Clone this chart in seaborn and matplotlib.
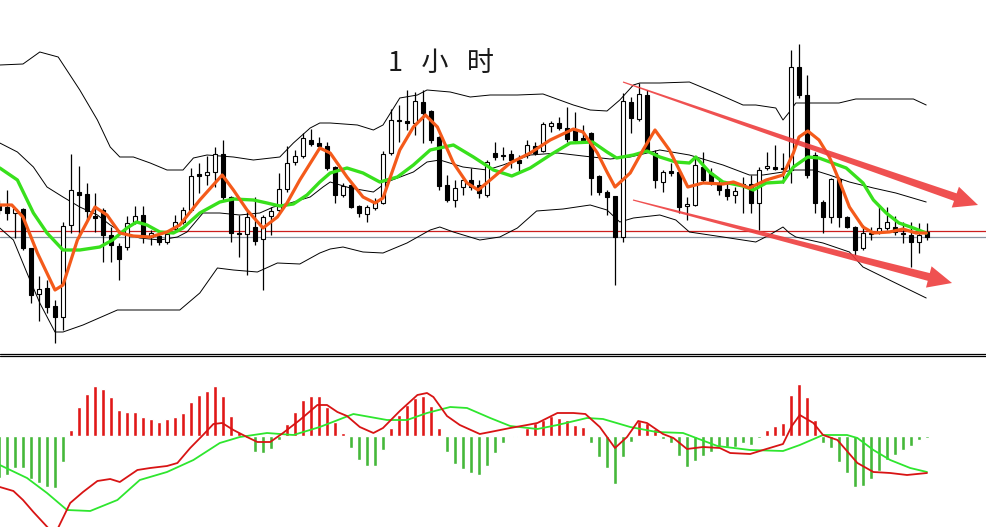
import matplotlib
matplotlib.use("Agg")
import matplotlib.pyplot as plt
import seaborn as sns
import numpy as np
from matplotlib.patches import Polygon

# ---- candles (bar index 0..116, chart price units) ----
opens = [147, 145, 139, 143, 104, 58, 64, 46, 35, 127,
         160, 158, 136, 142, 117, 106, 105, 130, 137, 115,
         116, 110, 123, 130, 142, 178, 177, 180, 198, 155,
         119, 118, 125, 113, 136, 142, 163, 190, 196, 212,
         209, 206, 185, 157, 167, 146, 138, 144, 149, 199,
         232, 231, 229, 250, 241, 215, 167, 152, 165, 172,
         167, 157, 199, 197, 198, 192, 197, 206, 201, 226,
         229, 224, 222, 214, 219, 176, 160, 156, 115, 250,
         233, 257, 199, 170, 181, 180, 146, 147, 185, 179,
         168, 163, 157, 168, 168, 149, 184, 185, 184, 182,
         285, 257, 197, 150, 135, 173, 135, 125, 104, 119,
         120, 124, 125, 119, 117, 110, 120]
highs = [152, 162, 143, 144, 104, 76, 72, 52, 130, 198,
         186, 169, 159, 144, 125, 109, 136, 146, 146, 122,
         120, 121, 137, 145, 184, 189, 196, 205, 212, 156,
         137, 141, 155, 137, 145, 179, 206, 202, 219, 223,
         215, 210, 186, 169, 168, 147, 147, 154, 201, 243,
         247, 262, 260, 262, 242, 216, 177, 172, 174, 184,
         172, 192, 210, 205, 202, 197, 212, 210, 230, 231,
         235, 245, 240, 227, 220, 177, 162, 156, 259, 255,
         269, 262, 202, 182, 189, 182, 155, 195, 200, 184,
         172, 169, 165, 175, 177, 185, 200, 207, 199, 302,
         308, 277, 200, 152, 174, 175, 136, 126, 127, 125,
         147, 145, 136, 130, 130, 129, 129]
lows = [138, 132, 114, 102, 49, 31, 39, 9, 22, 119,
        114, 132, 120, 90, 90, 72, 102, 128, 109, 107,
        107, 108, 120, 128, 140, 159, 167, 165, 152, 110,
        95, 77, 107, 62, 117, 140, 160, 187, 194, 206,
        204, 182, 149, 155, 144, 135, 130, 142, 148, 197,
        210, 222, 217, 209, 209, 162, 150, 145, 157, 162,
        154, 155, 192, 192, 184, 179, 194, 197, 200, 220,
        222, 210, 210, 209, 157, 157, 137, 67, 110, 219,
        231, 200, 164, 160, 176, 139, 132, 146, 170, 167,
        157, 152, 149, 139, 139, 122, 182, 182, 169, 169,
        254, 174, 139, 119, 129, 125, 124, 97, 102, 112,
        118, 122, 117, 109, 85, 99, 112]
closes = [142, 139, 143, 104, 57, 63, 45, 35, 126, 162,
          157, 141, 134, 117, 107, 93, 129, 136, 117, 119,
          110, 118, 130, 142, 176, 176, 180, 198, 155, 119,
          118, 135, 111, 135, 141, 163, 189, 196, 214, 208,
          206, 184, 157, 166, 145, 139, 145, 150, 198, 232,
          231, 229, 251, 239, 212, 166, 152, 164, 172, 165,
          159, 190, 195, 196, 192, 189, 207, 199, 228, 229,
          224, 213, 212, 211, 174, 160, 155, 115, 251, 234,
          258, 202, 172, 180, 179, 145, 148, 187, 172, 170,
          162, 156, 161, 167, 149, 182, 186, 183, 183, 285,
          257, 177, 149, 135, 173, 135, 125, 102, 119, 118,
          124, 130, 120, 118, 110, 117, 115]

# ---- Bollinger bands ----
upper_bar = [0.1, 3.0, 5.1, 7.4, 10.1, 12.3, 13.9, 15.1, 16.8, 18.9, 21.0, 23.0, 24.3, 26.0,
             29.3, 31.8, 35.1, 36.8, 38.9, 40.1, 41.4, 44.8, 46.8, 48.0, 50.1, 52.3, 53.5,
             56.4, 58.9, 61.4, 64.8, 68.0, 71.8, 73.9, 76.0, 77.6, 79.3, 80.1, 82.6, 86.3,
             89.6, 93.0, 94.6, 97.1, 98.0, 98.8, 99.6, 101.8, 105.0, 107.1, 111.3, 114.3, 115.9]
upper_val = [287, 288, 300, 295, 262, 232, 205, 195, 195, 189, 182, 182, 194, 197,
             195, 192, 195, 209, 224, 229, 229, 227, 222, 227, 254, 257, 262,
             260, 255, 257, 257, 258, 247, 242, 241, 252, 267, 269, 269, 270,
             259, 247, 247, 244, 232, 240, 249, 249, 249, 253, 253, 253, 247]
mid_bar = [0.1, 2.3, 4.3, 6.0, 8.0, 10.1, 12.3, 13.9, 15.5, 17.6, 20.1, 22.3, 23.5, 25.5,
           27.6, 30.1, 32.6, 34.3, 36.4, 38.9, 40.5, 41.4, 43.9, 46.8, 48.5, 51.8, 53.5,
           55.1, 58.0, 61.0, 63.0, 66.4, 69.8, 73.0, 76.4, 78.9, 82.6, 86.3, 90.5, 93.8,
           95.5, 98.0, 99.3, 101.8, 103.8, 106.3, 109.3, 112.1, 115.9]
mid_val = [209, 200, 185, 165, 155, 145, 137, 127, 119, 114, 112, 115, 120, 139,
           139, 137, 139, 145, 149, 155, 165, 170, 164, 160, 170, 180, 190,
           192, 185, 182, 187, 197, 199, 196, 193, 195, 202, 197, 187, 177,
           177, 180, 182, 182, 177, 170, 164, 159, 150]
lower_bar = [0.1, 1.8, 3.5, 5.1, 7.0, 8.0, 10.5, 14.8, 18.9, 22.6, 25.1, 27.3, 29.3, 32.3,
             34.8, 37.6, 40.1, 41.4, 43.0, 45.5, 48.0, 51.0, 53.9, 55.1, 56.8, 60.1, 62.6,
             64.8, 67.2, 70.5, 73.9, 76.0, 77.6, 79.3, 82.6, 84.6, 86.3, 90.5, 94.6, 96.3,
             98.0, 98.8, 99.6, 103.0, 106.3, 108.0, 111.3, 115.9]
lower_val = [124, 112, 79, 49, 20, 20, 27, 42, 42, 42, 59, 84, 82, 80,
             89, 88, 99, 103, 105, 100, 99, 109, 122, 125, 120, 112, 115,
             124, 141, 143, 147, 142, 130, 134, 137, 132, 120, 115, 110, 117,
             125, 119, 115, 109, 100, 85, 72, 54]

# ---- moving averages ----
fast_bar = [0.1, 1.6, 3.0, 4.8, 7.0, 8.0, 9.8, 12.0, 13.5, 15.1, 16.8, 18.9, 21.0, 22.6,
            25.1, 27.9, 29.3, 31.0, 33.0, 34.8, 36.0, 37.6, 40.1, 41.4, 43.5, 45.5, 47.0,
            48.0, 50.1, 51.8, 53.3, 54.8, 56.8, 58.5, 59.9, 61.4, 63.9, 66.4, 68.9, 71.8,
            73.0, 74.8, 76.0, 77.0, 78.9, 80.5, 82.0, 83.8, 86.1, 88.0, 90.5, 91.8, 93.8,
            95.9, 98.0, 99.3, 100.0, 101.1, 102.5, 103.8, 105.0, 106.3, 108.0, 109.3,
            111.3, 113.0, 114.6, 115.9]
fast_val = [147, 147, 135, 99, 62, 67, 112, 145, 137, 119, 116, 115, 120, 127,
            152, 177, 162, 142, 124, 135, 149, 172, 204, 199, 175, 155, 149,
            154, 202, 225, 237, 225, 189, 169, 162, 172, 189, 199, 212, 223,
            220, 199, 180, 165, 179, 202, 222, 202, 165, 169, 168, 170, 164,
            172, 177, 199, 215, 221, 212, 195, 172, 145, 125, 119,
            120, 123, 119, 119]
slow_bar = [0.1, 2.3, 4.3, 6.0, 8.0, 10.1, 12.6, 14.2, 16.0, 17.2, 18.5, 20.1, 21.8, 23.0,
            25.1, 27.6, 29.3, 31.8, 33.5, 35.1, 36.8, 38.5, 40.1, 41.4, 43.5, 45.5, 47.6,
            49.8, 51.8, 53.9, 56.8, 59.3, 61.8, 64.1, 66.4, 68.9, 71.4, 74.2, 76.0, 77.2,
            79.3, 81.0, 82.6, 84.6, 86.3, 87.1, 88.8, 90.5, 93.0, 94.3, 95.9, 98.0, 99.3,
            101.1, 102.5, 104.2, 105.9, 108.0, 109.3, 110.9, 112.5, 114.3, 115.9]
slow_val = [184, 172, 139, 119, 102, 102, 105, 112, 124, 130, 127, 120, 119, 124,
            139, 150, 153, 152, 149, 146, 148, 157, 170, 179, 184, 179, 170,
            175, 187, 202, 207, 195, 182, 176, 184, 197, 209, 210, 200, 194,
            197, 201, 195, 190, 189, 195, 180, 170, 166, 162, 169, 170, 185,
            195, 194, 189, 184, 169, 152, 139, 129, 124, 119]

red_level = 121
gray_level = 115

# ---- MACD ----
hist = [-42, -39, -32, -32, -43, -47, -51, -52, -26, 6,
        29, 42, 50, 47, 39, 26, 24, 24, 19, 17,
        14, 17, 19, 23, 34, 41, 45, 50, 40, 20,
        4, -2, -16, -17, -13, -4, 12, 24, 36, 40,
        40, 29, 14, 3, -12, -24, -30, -30, -14, 8,
        21, 31, 38, 40, 30, 8, -16, -28, -33, -37,
        -39, -30, -17, -7, -1, -1, 8, 13, 16, 20,
        18, 16, 11, 9, -7, -21, -32, -48, -21, -6,
        15, 13, 7, -3, -7, -20, -31, -25, -20, -16,
        -11, -11, -11, -7, -9, -2, 6, 10, 13, 41,
        52, 39, 16, -7, -12, -26, -37, -51, -50, -43,
        -35, -24, -19, -14, -10, -4, -2]
macd_bar = [0.1, 1.8, 3.0, 4.3, 6.5, 7.2, 8.9, 10.5, 12.3, 13.9, 15.1, 17.3, 18.9, 21.0,
            22.3, 23.9, 25.5, 26.8, 27.9, 29.3, 31.0, 32.3, 33.9, 35.5, 37.6, 39.8, 41.0,
            42.3, 43.5, 45.1, 46.8, 48.0, 50.1, 52.3, 53.5, 54.3, 56.0, 57.6, 60.1, 61.4,
            63.9, 66.0, 67.3, 69.8, 71.8, 73.3, 75.1, 77.0, 78.5, 79.9, 81.0, 83.0, 84.3,
            86.0, 88.0, 90.1, 91.4, 93.9, 95.5, 98.0, 99.1, 100.1, 101.8, 103.0, 104.8,
            107.3, 109.3, 111.4, 113.5, 116.0]
macd_val = [-51, -55, -64, -76, -95, -95, -67, -56, -45, -43, -46, -34, -32, -30,
            -27, -12, 1, 12, 13, 6, -1, -6, -6, 3, 16, 31, 31,
            24, 20, 9, 3, 8, 25, 41, 43, 39, 20, 11, 2, 4,
            8, 11, 13, 23, 23, 22, 9, -12, -1, 15, 13, 2, -2,
            -13, -11, -12, -17, -18, -14, -8, 10, 21, 13, 1, -4,
            -27, -36, -37, -39, -37]
signal_bar = [0.1, 3.5, 6.0, 8.5, 11.4, 14.8, 17.6, 21.0, 24.3, 27.6, 30.1, 33.5, 36.8, 40.1,
              44.3, 48.5, 51.0, 53.5, 56.4, 58.5, 61.4, 63.9, 67.3, 69.8, 73.5, 75.5, 78.9,
              82.2, 85.5, 89.8, 93.9, 98.0, 100.1, 103.0, 106.0, 107.3, 109.3, 111.4, 113.9, 116.0]
signal_val = [-29, -42, -57, -74, -75, -64, -44, -36, -24, -7, -1, 3, 1, 9,
              22, 16, 16, 23, 29, 28, 18, 10, 7, 11, 18, 17, 9,
              4, 3, -10, -14, -15, -9, 1, 1, -2, -14, -24, -32, -36]

title_text = "1   小   时"

sns.set_style("white")
plt.rcParams['font.family'] = ['Noto Sans CJK SC', 'DejaVu Sans']

W, H = 986, 527
fig = plt.figure(figsize=(W / 100, H / 100), dpi=100)
ax = fig.add_axes([0, 175 / H, 1, 352 / H])
axm = fig.add_axes([0, 0, 1, 171 / H])

idx = np.arange(len(opens))
o = np.array(opens)
c = np.array(closes)

# bands
for bx, bv in [(upper_bar, upper_val), (mid_bar, mid_val), (lower_bar, lower_val)]:
    sns.lineplot(x=bx, y=bv, ax=ax, color='black', linewidth=0.7, sort=False,
                 estimator=None, zorder=2)

ax.axhline(red_level, color='#cc1f1f', lw=0.9, zorder=1)
ax.axhline(gray_level, color='#8a96a3', lw=0.9, zorder=1)

# candles
ax.vlines(idx, lows, highs, color='black', lw=0.9, zorder=3)
bottoms = np.minimum(o, c)
heights = np.maximum(np.abs(c - o), 1)
faces = ['white' if cc > oo else 'black' for oo, cc in zip(o, c)]
ax.bar(idx, heights, bottom=bottoms, width=0.55, color=faces, edgecolor='black',
       linewidth=0.8, zorder=4)

# moving averages
sns.lineplot(x=slow_bar, y=slow_val, ax=ax, color='#38e01c', linewidth=2.4, sort=False,
             estimator=None, zorder=5)
sns.lineplot(x=fast_bar, y=fast_val, ax=ax, color='#f45a1a', linewidth=2.3, sort=False,
             estimator=None, zorder=6)

ax.set_xlim(0.125, 123.375)
ax.set_ylim(0, 352)

# MACD panel
hcols = ['#e01818' if v > 0 else '#45b83a' for v in hist]
axm.bar(idx, hist, width=0.38, color=hcols, zorder=2)
sns.lineplot(x=signal_bar, y=signal_val, ax=axm, color='#2ee62e', linewidth=1.3, sort=False,
             estimator=None, zorder=3)
sns.lineplot(x=macd_bar, y=macd_val, ax=axm, color='#d81414', linewidth=1.3, sort=False,
             estimator=None, zorder=4)
axm.set_xlim(0.125, 123.375)
axm.set_ylim(-91, 80)

for a in (ax, axm):
    a.set_axis_off()

# separator double line
for yp in (353.5, 355.8):
    fig.add_artist(plt.Line2D([0, 1], [1 - yp / H, 1 - yp / H], transform=fig.transFigure,
                              color='black', lw=0.9))


def trend_arrow(tail, tip, w0, w1, head_w, head_len, color):
    t = np.array(tail, float)
    p = np.array(tip, float)
    d = p - t
    u = d / np.hypot(*d)
    n = np.array([-u[1], u[0]])
    base = p - u * head_len
    pts = [t + n * w0 / 2, base + n * w1 / 2, base + n * head_w / 2, p,
           base - n * head_w / 2, base - n * w1 / 2, t - n * w0 / 2]
    verts = [(x / 100, (H - y) / 100) for x, y in pts]
    fig.add_artist(Polygon(verts, closed=True, facecolor=color, edgecolor='none',
                           alpha=0.9, transform=fig.dpi_scale_trans, zorder=10))


trend_arrow((623, 82), (978, 205), 1.2, 8, 22, 24, '#ee3e3e')
trend_arrow((633, 200), (952, 283), 1.2, 8, 22, 24, '#ee3e3e')

fig.text(441 / W, 1 - 64 / H, title_text, ha='center', va='center', fontsize=19.5,
         color='#1a1a1a')

fig.savefig('out.png', dpi=100)
